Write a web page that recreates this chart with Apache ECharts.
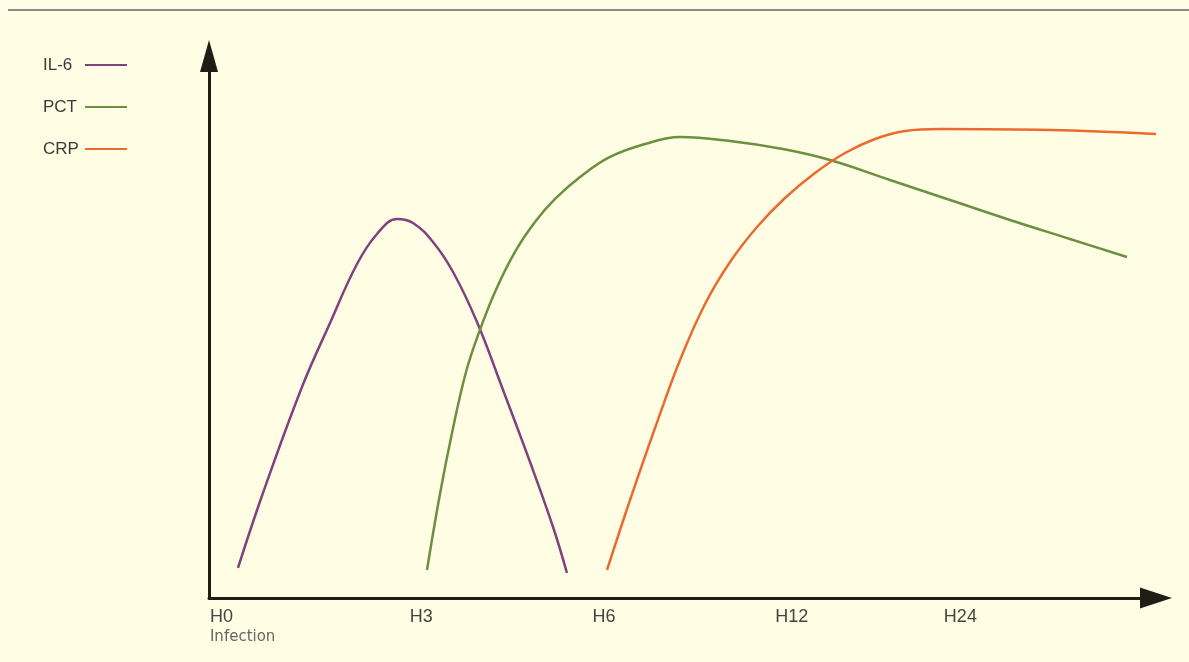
<!DOCTYPE html>
<html>
<head>
<meta charset="utf-8">
<script src="https://cdn.jsdelivr.net/npm/echarts@6/dist/echarts.min.js"></script>
<style>
html,body{margin:0;padding:0;background:#fffde3;}
#chart{width:1189px;height:662px;}
</style>
</head>
<body>
<div id="chart"></div>
<script>
// x in relative time-axis units, y in relative concentration units
var il6X = [3.06, 5.70, 9.82, 12.78, 15.63, 17.74, 19.85, 21.54, 23.65, 25.77, 28.30, 31.05, 33.90, 36.33, 37.80];
var il6Y = [5.54, 19.37, 38.93, 50.74, 61.62, 67.16, 69.93, 69.19, 65.68, 60.15, 50.92, 38.38, 25.09, 13.10, 4.61];

var pctX = [23.02, 24.39, 25.77, 27.14, 28.41, 30.20, 32.31, 34.42, 36.54, 39.18, 42.34, 46.04, 49.74, 55.02, 60.61, 65.58, 71.91, 78.25, 84.58, 90.92, 96.94];
var pctY = [5.17, 19.19, 31.37, 41.70, 48.52, 56.46, 63.84, 69.37, 73.62, 77.68, 81.37, 83.76, 85.06, 84.32, 82.84, 80.81, 77.12, 73.43, 69.74, 66.24, 62.92];

var crpX = [42.03, 44.46, 47.10, 49.74, 52.38, 55.02, 57.87, 60.82, 63.99, 67.16, 70.33, 73.50, 77.19, 88.81, 100];
var crpY = [5.17, 18.08, 31.37, 43.91, 54.24, 61.99, 68.45, 73.80, 78.41, 82.10, 84.69, 86.16, 86.53, 86.35, 85.61];

var tickLabels = ['H0', 'H3', 'H6', 'H12', 'H24'];
var tickValues = [0.1, 21.2, 40.5, 59.8, 77.6];
var originNote = 'Infection';

function pairs(xs, ys) { return xs.map(function (x, i) { return [x, ys[i]]; }); }

var chart = echarts.init(document.getElementById('chart'));
var axisColor = '#1e1e14';
chart.setOption({
  backgroundColor: '#fffde3',
  animation: false,
  grid: { left: 209, right: 33, top: 56, bottom: 64 },
  legend: {
    orient: 'vertical',
    left: 38,
    top: 50,
    align: 'right',
    icon: 'rect',
    itemWidth: 42,
    itemHeight: 2,
    itemGap: 22,
    formatter: function (name) { return '{t|' + name + '}'; },
    textStyle: {
      fontFamily: 'Liberation Sans Narrow, Liberation Sans, Arial, sans-serif',
      fontSize: 17,
      color: '#3a3a3a',
      rich: {
        t: {
          fontFamily: 'Liberation Sans Narrow, Liberation Sans, Arial, sans-serif',
          fontSize: 17,
          color: '#3a3a3a',
          width: 37,
          height: 20,
          lineHeight: 20,
          align: 'left'
        }
      }
    },
    data: ['IL-6', 'PCT', 'CRP']
  },
  graphic: [{
    type: 'line',
    shape: { x1: 8, y1: 10, x2: 1189, y2: 10 },
    style: { stroke: '#8a8a8a', lineWidth: 2 }
  }],
  xAxis: {
    type: 'value',
    min: 0,
    max: 100,
    splitLine: { show: false },
    axisTick: { show: false },
    axisLine: {
      show: true,
      onZero: false,
      symbol: ['none', 'triangle'],
      symbolSize: [21, 32],
      lineStyle: { color: axisColor, width: 3 }
    },
    axisLabel: {
      customValues: tickValues,
      formatter: function (v) {
        var idx = tickValues.indexOf(v);
        var t = idx >= 0 ? tickLabels[idx] : '';
        return idx === 0 ? t + '\n{s|' + originNote + '}' : t;
      },
      align: 'left',
      verticalAlign: 'top',
      margin: 9,
      color: '#444',
      fontFamily: 'Liberation Sans, Arial, sans-serif',
      fontSize: 18,
      lineHeight: 20,
      rich: {
        s: { fontFamily: 'DejaVu Sans, sans-serif', fontSize: 15, color: '#666', lineHeight: 20 }
      }
    }
  },
  yAxis: {
    type: 'value',
    min: 0,
    max: 100,
    splitLine: { show: false },
    axisTick: { show: false },
    axisLabel: { show: false },
    axisLine: {
      show: true,
      onZero: false,
      symbol: ['none', 'triangle'],
      symbolSize: [18, 32],
      lineStyle: { color: axisColor, width: 3 }
    }
  },
  series: [
    { name: 'IL-6', type: 'line', data: pairs(il6X, il6Y), smooth: 0.4, showSymbol: false, symbol: 'none',
      lineStyle: { color: '#80427e', width: 2.5 }, itemStyle: { color: '#80427e' } },
    { name: 'PCT', type: 'line', data: pairs(pctX, pctY), smooth: 0.4, showSymbol: false, symbol: 'none',
      lineStyle: { color: '#6a9040', width: 2.5 }, itemStyle: { color: '#6a9040' } },
    { name: 'CRP', type: 'line', data: pairs(crpX, crpY), smooth: 0.4, showSymbol: false, symbol: 'none',
      lineStyle: { color: '#ec6a30', width: 2.5 }, itemStyle: { color: '#ec6a30' } }
  ]
});
</script>
</body>
</html>
